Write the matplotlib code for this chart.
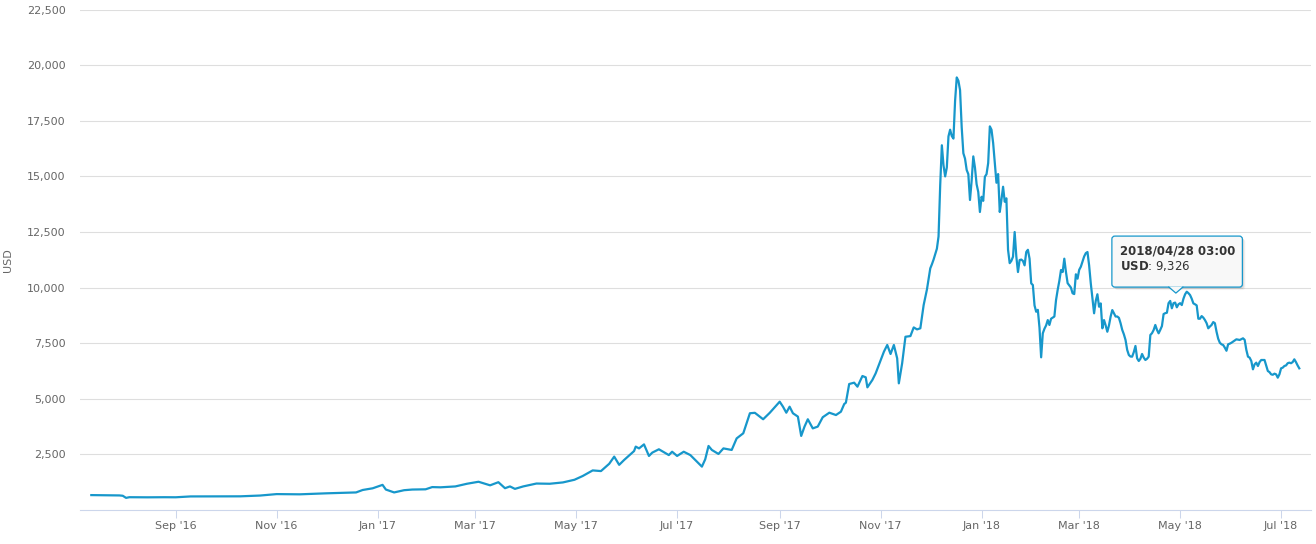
import matplotlib
matplotlib.use('Agg')
import matplotlib.pyplot as plt
import matplotlib.dates as mdates
import matplotlib.ticker as mticker
from matplotlib.patches import FancyBboxPatch, Polygon
from matplotlib.lines import Line2D
from matplotlib.transforms import Affine2D
import pandas as pd

# ---------------- data ----------------
early_dates = [
    "2016-07-12", "2016-07-20", "2016-07-29", "2016-07-31", "2016-08-02", "2016-08-04",
    "2016-08-15", "2016-08-25", "2016-09-01", "2016-09-10", "2016-09-19", "2016-10-01",
    "2016-10-10", "2016-10-22", "2016-11-01", "2016-11-15", "2016-12-01", "2016-12-19",
    "2016-12-23", "2016-12-29", "2017-01-04", "2017-01-06", "2017-01-11", "2017-01-17",
    "2017-01-22", "2017-01-30", "2017-02-03", "2017-02-08", "2017-02-17", "2017-02-24",
    "2017-03-03", "2017-03-10", "2017-03-15", "2017-03-19", "2017-03-22", "2017-03-25",
    "2017-03-30", "2017-04-07", "2017-04-15", "2017-04-23", "2017-04-30", "2017-05-05",
    "2017-05-11", "2017-05-16", "2017-05-21", "2017-05-24", "2017-05-27", "2017-05-30",
    "2017-06-05", "2017-06-06", "2017-06-08", "2017-06-11", "2017-06-14", "2017-06-16",
    "2017-06-20", "2017-06-26", "2017-06-28", "2017-07-01", "2017-07-05", "2017-07-09",
    "2017-07-16", "2017-07-18", "2017-07-20", "2017-07-22", "2017-07-26", "2017-07-29",
    "2017-08-03", "2017-08-06", "2017-08-10", "2017-08-14", "2017-08-17", "2017-08-22",
    "2017-08-26", "2017-09-01", "2017-09-03", "2017-09-05", "2017-09-07", "2017-09-09",
    "2017-09-12", "2017-09-14", "2017-09-16", "2017-09-18", "2017-09-21", "2017-09-24",
    "2017-09-27", "2017-10-01", "2017-10-05", "2017-10-08", "2017-10-10", "2017-10-11",
    "2017-10-13", "2017-10-16", "2017-10-18", "2017-10-21", "2017-10-23", "2017-10-24",
    "2017-10-27", "2017-10-29", "2017-11-03", "2017-11-05", "2017-11-07", "2017-11-09",
    "2017-11-11", "2017-11-12", "2017-11-14", "2017-11-16", "2017-11-19", "2017-11-21",
    "2017-11-23", "2017-11-25", "2017-11-27", "2017-11-29",
]
early_usd = [
    670, 665, 655, 640, 545, 575,
    570, 575, 572, 610, 612, 612,
    615, 650, 715, 705, 750, 790,
    900, 975, 1130, 920, 790, 890,
    920, 930, 1030, 1020, 1060, 1180,
    1270, 1110, 1250, 980, 1060, 950,
    1060, 1190, 1180, 1240, 1360, 1530,
    1780, 1750, 2080, 2400, 2030, 2250,
    2650, 2850, 2770, 2950, 2430, 2580,
    2730, 2470, 2620, 2430, 2620, 2470,
    1950, 2280, 2880, 2700, 2520, 2770,
    2700, 3220, 3450, 4350, 4370, 4080,
    4370, 4870, 4645, 4375, 4645, 4350,
    4200, 3330, 3750, 4080, 3670, 3750,
    4170, 4375, 4270, 4420, 4765, 4825,
    5665, 5725, 5545, 6025, 5965, 5515,
    5845, 6145, 7120, 7420, 7015, 7420,
    6820, 5695, 6595, 7790, 7820, 8210,
    8120, 8170, 9215, 9920,
]

# daily closes from 2017-12-01 onwards
daily_start = "2017-12-01"
daily_usd = [
    10865, 11050, 11260, 11500, 11750, 12300, 14600, 16400, 15500, 15000,
    15400, 16800, 17100, 16815, 16700, 18400, 19450, 19300, 18880, 17200,
    16040, 15800, 15290, 15100, 13940, 14800, 15900, 15400, 14650, 14300,
    13400, 14085, 13900, 14985, 15100, 15600, 17250, 17100, 16500, 15600,
    14715, 15105, 13400, 13940, 14535, 13860, 14015, 11700, 11100, 11200,
    11390, 12500, 11400, 10700, 11240, 11260, 11200, 11000, 11600, 11700,
    11300, 10190, 10115, 9200, 8915, 9000, 8200, 6865, 7945, 8150,
    8300, 8540, 8320, 8600, 8650, 8700, 9440, 9900, 10300, 10790,
    10700, 11300, 10700, 10200, 10100, 10000, 9745, 9710, 10600, 10400,
    10800, 10940, 11165, 11400, 11550, 11600, 11000, 10190, 9500, 8845,
    9400, 9700, 9140, 9290, 8170, 8540, 8300, 8015, 8300, 8700,
    8990, 8850, 8700, 8700, 8640, 8400, 8100, 7900, 7645, 7200,
    6970, 6900, 6895, 7100, 7375, 6820, 6700, 6800, 7015, 6850,
    6745, 6800, 6895, 7870, 7950, 8095, 8320, 8100, 7945, 8100,
    8270, 8810, 8850, 8870, 9300, 9400, 9070, 9300, 9326, 9115,
    9250, 9300, 9215, 9500, 9700, 9815, 9750, 9665, 9500, 9290,
    9250, 9200, 8600, 8600, 8720, 8650, 8540, 8400, 8170, 8250,
    8320, 8450, 8400, 8015, 7700, 7520, 7450, 7420, 7300, 7160,
    7450, 7480, 7520, 7570, 7620, 7675, 7660, 7645, 7680, 7720,
    7650, 7200, 6895, 6850, 6700, 6325, 6550, 6625, 6475, 6650,
    6745, 6745, 6745, 6500, 6250, 6200, 6100, 6080, 6130, 6100,
    5950, 6100, 6370, 6400, 6475, 6500, 6600, 6625, 6600, 6650,
    6775, 6650, 6500, 6370,
]

y_ticks = [2500, 5000, 7500, 10000, 12500, 15000, 17500, 20000, 22500]
y_label = "USD"

tooltip_time = "2018-04-28 03:00"
tooltip_header = "2018/04/28 03:00"
tooltip_series = "USD"
tooltip_value = 9326

# ---------------- build series ----------------
dates = list(pd.to_datetime(early_dates)) + list(
    pd.date_range(daily_start, periods=len(daily_usd), freq="D"))
values = early_usd + daily_usd

# ---------------- figure ----------------
W, H, DPI = 1316, 544, 100
fig = plt.figure(figsize=(W / DPI, H / DPI), dpi=DPI)
fig.patch.set_facecolor("white")

ax_left, ax_right, ax_top, ax_bottom = 80, 1311, 9.6, 510
ax = fig.add_axes([ax_left / W, (H - ax_bottom) / H,
                   (ax_right - ax_left) / W, (ax_bottom - ax_top) / H])

line_color = "#1797cb"
ax.plot(dates, values, color=line_color, lw=1.6, solid_joinstyle="round", zorder=3)

ax.set_xlim(pd.Timestamp("2016-07-05 04:00"), pd.Timestamp("2018-07-19 02:00"))
ax.set_ylim(0, 22500)

# y axis
ax.set_yticks(y_ticks)
ax.yaxis.set_major_formatter(mticker.FuncFormatter(lambda v, p: f"{v:,.0f}"))
ax.tick_params(axis="y", length=0, pad=10.5, labelsize=8, labelcolor="#666666")
ax.grid(axis="y", color="#dedede", lw=0.8, zorder=0)
ax.set_ylabel(y_label, fontsize=8, color="#666666")
ax.yaxis.set_label_coords(-0.0545, 0.5)

# x axis
ax.xaxis.set_major_locator(mdates.MonthLocator(bymonth=[1, 3, 5, 7, 9, 11]))
ax.xaxis.set_major_formatter(mdates.DateFormatter("%b '%y"))
ax.tick_params(axis="x", length=6, width=0.75, color="#ccd6eb", pad=2,
               labelsize=8, labelcolor="#666666")

for s in ("top", "right", "left"):
    ax.spines[s].set_visible(False)
ax.spines["bottom"].set_color("#ccd6eb")
ax.spines["bottom"].set_linewidth(0.8)
ax.set_axisbelow(True)

# ---------------- tooltip ----------------
tx = mdates.date2num(pd.Timestamp(tooltip_time))
px, py = ax.transData.transform((tx, tooltip_value))
T = Affine2D().translate(px, py)

bx0, bx1, by0, by1 = -63.5, 67.0, 15.5, 66.5
arrow_half, arrow_tip = 6.5, 9.5
bg = "#f8f8f8"

for off, alpha in ((3, 0.04), (2, 0.07), (1, 0.10)):
    sh = FancyBboxPatch((bx0 + off, by0 - off), bx1 - bx0, by1 - by0,
                        boxstyle="round,pad=0,rounding_size=3",
                        transform=T, facecolor="black", edgecolor="none",
                        alpha=alpha, zorder=9)
    fig.add_artist(sh)

box = FancyBboxPatch((bx0, by0), bx1 - bx0, by1 - by0,
                     boxstyle="round,pad=0,rounding_size=3",
                     transform=T, facecolor=bg, edgecolor=line_color,
                     lw=0.9, zorder=10)
fig.add_artist(box)
arr = Polygon([(-arrow_half, by0 + 0.6), (0.5, arrow_tip), (arrow_half + 1, by0 + 0.6)],
              closed=True, transform=T, facecolor=bg, edgecolor="none", zorder=11)
fig.add_artist(arr)
fig.add_artist(Line2D([-arrow_half, 0.5, arrow_half + 1], [by0, arrow_tip, by0],
                      transform=T, color=line_color, lw=0.9, zorder=12))

fig.text(-55.5, 51.5, tooltip_header, transform=T, ha="left", va="center",
         fontsize=8.5, fontweight="bold", color="#333333", zorder=13)
fig.text(-55.5, 36.5, r"$\mathbf{" + tooltip_series + r"}$" + f": {tooltip_value:,}",
         transform=T, ha="left", va="center",
         fontsize=8.5, color="#333333", zorder=13)

fig.savefig("out.png", dpi=DPI, facecolor="white")
